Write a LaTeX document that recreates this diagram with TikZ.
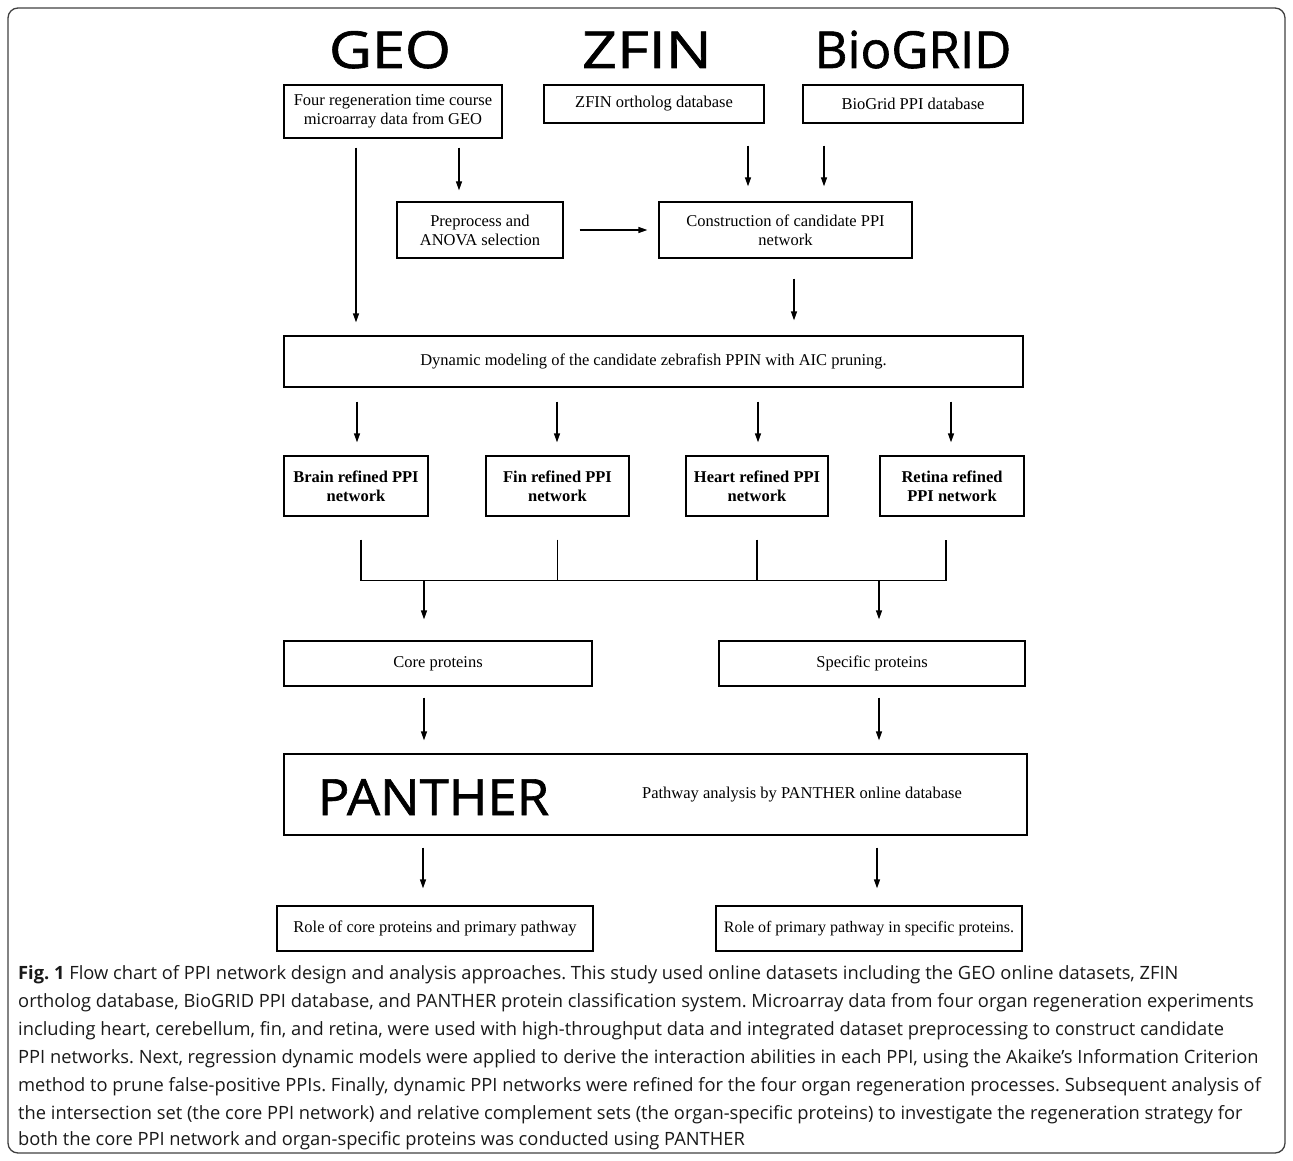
\documentclass[tikz,border=0pt]{standalone}
\usepackage{fontspec}
\setmainfont{Liberation Serif}
\newfontfamily\headfont[FakeBold=1.2]{Open Sans}
\newfontfamily\capfont{Open Sans}
\usetikzlibrary{arrows.meta}
\begin{document}
\frenchspacing
\begin{tikzpicture}[x=1pt,y=-1pt,
  box/.style={draw, line width=1.3pt, align=center, inner sep=0pt,
    font=\fontsize{16.5}{19}\selectfont},
  bbox/.style={box, font=\fontsize{16.5}{19}\selectfont\bfseries},
  arr/.style={line width=1.3pt, -{Triangle[length=9pt,width=6pt]}},
  ln/.style={line width=1.3pt},
  head/.style={font=\headfont\fontsize{51}{51}\selectfont, inner sep=0pt, anchor=base},
  capline/.style={anchor=west, inner sep=0pt, text=black!90, font=\capfont\fontsize{18.3}{21}\selectfont}]
\useasboundingbox (0,0) rectangle (1293,1161);
\draw[line width=1.3pt, rounded corners=10pt, black!75] (8,8) rectangle (1285,1153);

% headings
\node[head] (hgeo) at (390,68) {\scalebox{1.16}[1]{GEO}};
\node[head] (hzfin) at (647,68) {\scalebox{1.2}[1]{ZFIN}};
\node[head] (hbio) at (913,68) {BioGRID};

% boxes
\node[box, minimum width=218pt, minimum height=53pt] (geo) at (393,111.5) {Four regeneration time course\\microarray data from GEO};
\node[box, minimum width=220pt, minimum height=38pt] (zfin) at (654,104) {ZFIN ortholog database};
\node[box, minimum width=220pt, minimum height=38pt] (bio) at (913,104) {BioGrid PPI database};
\node[box, minimum width=166pt, minimum height=56pt] (pre) at (480,230) {Preprocess and\\ANOVA selection};
\node[box, minimum width=253pt, minimum height=56pt] (con) at (785.5,230) {Construction of candidate PPI\\network};
\node[box, minimum width=739pt, minimum height=51pt] (dyn) at (653.5,361.5) {Dynamic modeling of the candidate zebrafish PPIN with AIC pruning.};
\node[bbox, minimum width=144pt, minimum height=60pt] (brain) at (356,486) {Brain refined PPI\\network};
\node[bbox, minimum width=143pt, minimum height=60pt] (fin) at (557.5,486) {Fin refined PPI\\network};
\node[bbox, minimum width=142pt, minimum height=60pt] (heart) at (757,486) {Heart refined PPI\\network};
\node[bbox, minimum width=144pt, minimum height=60pt] (retina) at (952,486) {Retina refined\\PPI network};
\node[box, minimum width=308pt, minimum height=45pt] (core) at (438,663.5) {Core proteins};
\node[box, minimum width=306pt, minimum height=45pt] (spec) at (872,663.5) {Specific proteins};
\node[box, minimum width=743pt, minimum height=81pt] (panther) at (655.5,794.5) {};
\node[head, font=\headfont\fontsize{50}{50}\selectfont] (ptitle) at (433.5,815) {\scalebox{1.05}[1]{PANTHER}};
\node[inner sep=0pt, font=\fontsize{16.5}{19}\selectfont] (ptext) at (802,795) {Pathway analysis by PANTHER online database};
\node[box, minimum width=316pt, minimum height=45pt] (role1) at (435,928.5) {Role of core proteins and primary pathway};
\node[box, minimum width=306pt, minimum height=45pt, font=\fontsize{16}{19}\selectfont] (role2) at (869,928.5) {Role of primary pathway in specific proteins.};

% connectors
\draw[arr, shorten <=9pt, shorten >=11pt] ([xshift=66pt]geo.south) -- ([xshift=-21pt]pre.north);
\draw[arr, shorten <=16pt, shorten >=11pt] (pre.east) -- (pre.east -| con.west);
\draw[arr, shorten <=22pt, shorten >=15pt] ([xshift=94pt]zfin.south) -- ([xshift=-37.5pt]con.north);
\draw[arr, shorten <=22pt, shorten >=15pt] ([xshift=-89pt]bio.south) -- ([xshift=38.5pt]con.north);
\draw[arr, shorten <=9pt, shorten >=13pt] ([xshift=-37pt]geo.south) -- ([xshift=-297.5pt]dyn.north);
\draw[arr, shorten <=20pt, shorten >=15pt] ([xshift=8.5pt]con.south) -- ([xshift=140.5pt]dyn.north);

\foreach \b/\dx in {brain/1,fin/-0.5,heart/1,retina/-1}
  \draw[arr, shorten <=14pt, shorten >=13pt] ([xshift=\dx pt]\b.north |- dyn.south) -- ([xshift=\dx pt]\b.north);

\coordinate (busL) at ([xshift=5pt,yshift=-64pt]brain.south);
\coordinate (busR) at ([xshift=-6pt,yshift=-64pt]retina.south);
\draw[ln] ([xshift=5pt,yshift=-23pt]brain.south) -- (busL) -- (busR) -- ([xshift=-6pt,yshift=-23pt]retina.south);
\draw[ln, shorten <=23pt] (fin.south) -- (fin.south |- busL);
\draw[ln, shorten <=23pt] (heart.south) -- (heart.south |- busL);

\draw[arr, shorten >=21pt] ([xshift=-14pt]core.north |- busL) -- ([xshift=-14pt]core.north);
\draw[arr, shorten >=21pt] ([xshift=7pt]spec.north |- busL) -- ([xshift=7pt]spec.north);

\draw[arr, shorten <=11pt, shorten >=13pt] ([xshift=-14pt]core.south) -- ([xshift=-14pt]core.south |- panther.north);
\draw[arr, shorten <=11pt, shorten >=13pt] ([xshift=7pt]spec.south) -- ([xshift=7pt]spec.south |- panther.north);

\draw[arr, shorten <=12pt, shorten >=17pt] ([xshift=-12pt]role1.north |- panther.south) -- ([xshift=-12pt]role1.north);
\draw[arr, shorten <=12pt, shorten >=17pt] ([xshift=8pt]role2.north |- panther.south) -- ([xshift=8pt]role2.north);

% caption
\node[capline] (c1) at (18,975) {\textbf{Fig. 1} Flow chart of PPI network design and analysis approaches. This study used online datasets including the GEO online datasets, ZFIN};
\node[capline] (c2) at (18,1003) {ortholog database, BioGRID PPI database, and PANTHER protein classification system. Microarray data from four organ regeneration experiments};
\node[capline] (c3) at (18,1031) {including heart, cerebellum, fin, and retina, were used with high-throughput data and integrated dataset preprocessing to construct candidate};
\node[capline] (c4) at (18,1059) {PPI networks. Next, regression dynamic models were applied to derive the interaction abilities in each PPI, using the Akaike’s Information Criterion};
\node[capline] (c5) at (18,1087) {method to prune false-positive PPIs. Finally, dynamic PPI networks were refined for the four organ regeneration processes. Subsequent analysis of};
\node[capline] (c6) at (18,1115) {the intersection set (the core PPI network) and relative complement sets (the organ-specific proteins) to investigate the regeneration strategy for};
\node[capline] (c7) at (18,1141) {both the core PPI network and organ-specific proteins was conducted using PANTHER};
\end{tikzpicture}
\end{document}
